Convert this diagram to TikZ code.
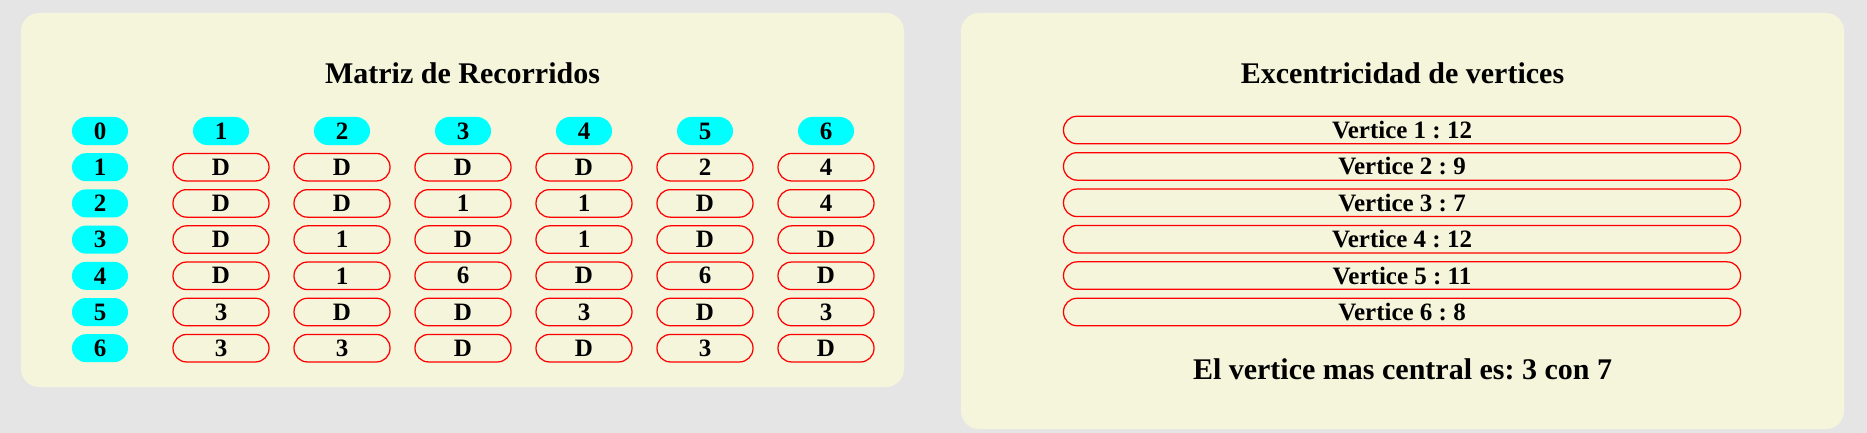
\documentclass[tikz,border=0pt]{standalone}
\usepackage{fontspec}
\setmainfont{Liberation Serif}
\frenchspacing
\usetikzlibrary{positioning}
\definecolor{pagegray}{HTML}{E5E5E5}
\definecolor{panelbeige}{HTML}{F5F5DC}
\definecolor{headcyan}{HTML}{00FFFF}

\begin{document}
\begin{tikzpicture}[x=1pt,y=-1pt,
    panel/.style={fill=panelbeige,rounded corners=18pt},
    title/.style={anchor=base,inner sep=0pt,font=\fontsize{30}{36}\selectfont\bfseries},
    head/.style={fill=headcyan,rounded corners=14pt,minimum width=56pt,
      minimum height=28pt,inner sep=0pt,font=\fontsize{25}{30}\selectfont\bfseries},
    cell/.style={draw=red,line width=1.25pt,rounded corners=13.5pt,minimum width=96pt,
      minimum height=27.5pt,inner sep=0pt,font=\fontsize{25}{30}\selectfont\bfseries},
    ecc/.style={cell,minimum width=677pt}]
  \fill[pagegray] (0,0) rectangle (1867,433);
  % two panels
  \fill[panel] (21,13) rectangle (904,387);
  \fill[panel] (961,13) rectangle (1844,429);

  % matrix of paths
  \node[title] (mtitle) at (462.5,83.5) {Matriz de Recorridos};
  \node[head] (r0) at (100,131) {0};
  \foreach \j in {1,...,6}
    \node[head] (c\j) at ({221+121*(\j-1)},131) {\j};
  \foreach \i in {1,...,6}
    \node[head] (r\i) at (100,{131+36.2*\i}) {\i};
  \foreach \row [count=\i] in {{D,D,D,D,2,4},{D,D,1,1,D,4},{D,1,D,1,D,D},
                               {D,1,6,D,6,D},{3,D,D,3,D,3},{3,3,D,D,3,D}}
    \foreach \v [count=\j] in \row
      \node[cell] (m\i\j) at ({221+121*(\j-1)},{131+36.2*\i}) {\v};

  % eccentricity of vertices
  \node[title] (etitle) at (1402.5,84) {Excentricidad de vertices};
  \foreach \e [count=\k] in {12,9,7,12,11,8}
    \node[ecc] (v\k) at (1402,{130+36.4*(\k-1)}) {Vertice \k\ : \e};
  \node[title] (centre) at (1402.5,379) {El vertice mas central es: 3 con 7};
\end{tikzpicture}
\end{document}
